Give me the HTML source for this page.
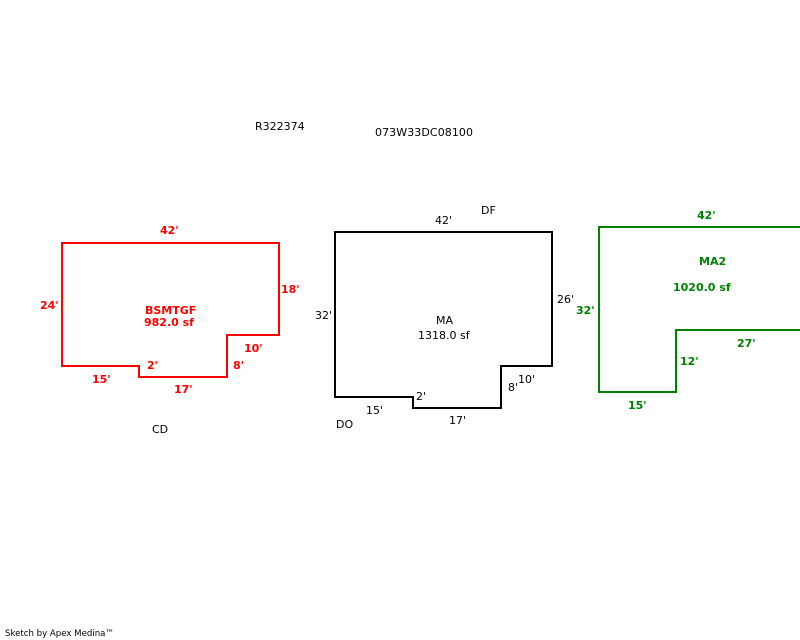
<!DOCTYPE html>
<html>
<head>
<meta charset="utf-8">
<style>
html,body{margin:0;padding:0;background:#fff;}
svg{display:block;}
text{font-family:"DejaVu Sans","Liberation Sans",sans-serif;font-size:11px;fill:#000;}
.r text{fill:#f00;font-weight:bold;}
.g text{fill:#008000;font-weight:bold;}
</style>
</head>
<body>
<svg width="800" height="640" viewBox="0 0 800 640" xmlns="http://www.w3.org/2000/svg">
<g fill="none" stroke-width="2" shape-rendering="crispEdges">
<polygon stroke="#f00" points="62,243 279,243 279,335 227,335 227,377 139,377 139,366 62,366"/>
<polygon stroke="#000" points="335,232 552,232 552,366 501,366 501,408 413,408 413,397 335,397"/>
<polyline stroke="#008000" points="801,227 599,227 599,392 676,392 676,330 801,330"/>
</g>
<g transform="translate(0,-1)">
<text x="255" y="131">R322374</text>
<text x="375" y="137" textLength="98">073W33DC08100</text>
<text x="481" y="215">DF</text>
<text x="435" y="225">42'</text>
<text x="152" y="434">CD</text>
<text x="315" y="320">32'</text>
<text x="557" y="304">26'</text>
<text x="436" y="325">MA</text>
<text x="418" y="340">1318.0 sf</text>
<text x="518" y="384">10'</text>
<text x="508" y="392">8'</text>
<text x="416" y="401">2'</text>
<text x="366" y="415">15'</text>
<text x="449" y="425">17'</text>
<text x="336" y="429">DO</text>
<text x="5" y="637" style="font-size:9px" textLength="109" lengthAdjust="spacingAndGlyphs">Sketch by Apex Medina™</text>
</g>
<g class="r" transform="translate(0,-1)">
<text x="160" y="235">42'</text>
<text x="281" y="294">18'</text>
<text x="40" y="310">24'</text>
<text x="145" y="315">BSMTGF</text>
<text x="144" y="327">982.0 sf</text>
<text x="244" y="353">10'</text>
<text x="147" y="370">2'</text>
<text x="233" y="370">8'</text>
<text x="92" y="384">15'</text>
<text x="174" y="394">17'</text>
</g>
<g class="g" transform="translate(0,-1)">
<text x="697" y="220">42'</text>
<text x="699" y="266">MA2</text>
<text x="673" y="292">1020.0 sf</text>
<text x="576" y="315">32'</text>
<text x="737" y="348">27'</text>
<text x="680" y="366">12'</text>
<text x="628" y="410">15'</text>
</g>
</svg>
</body>
</html>
